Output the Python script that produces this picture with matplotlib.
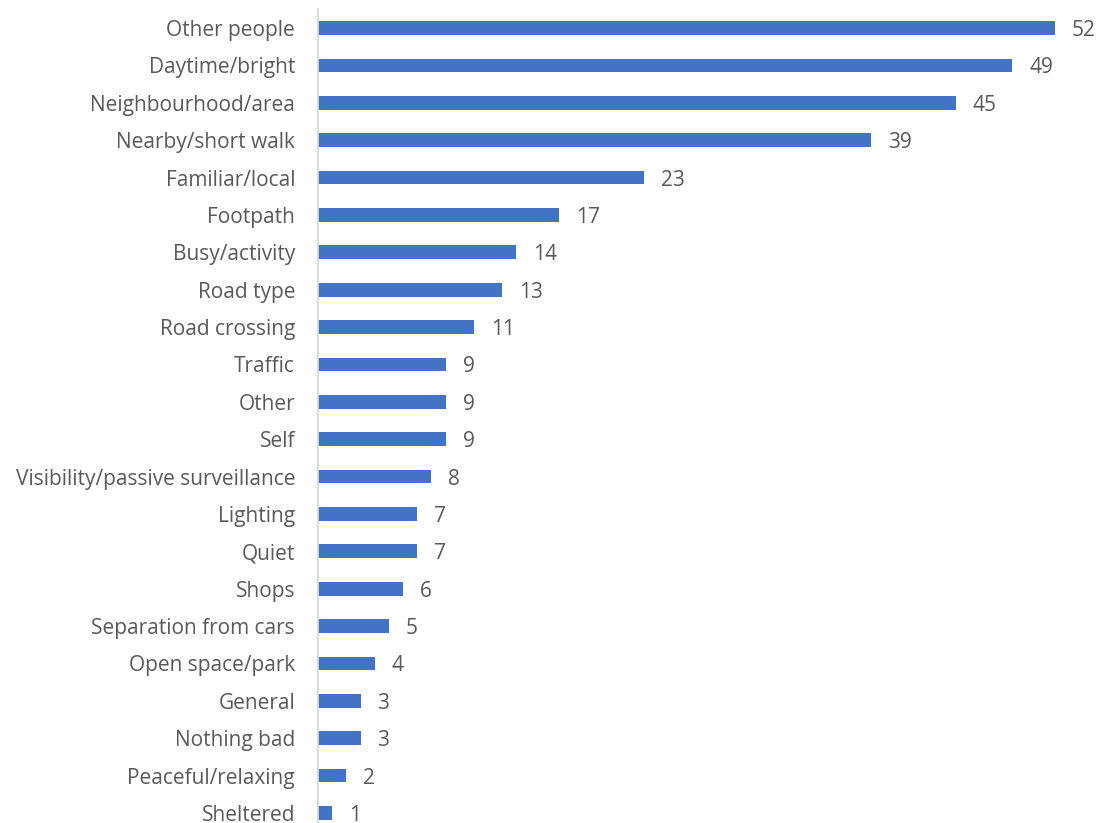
import matplotlib.pyplot as plt

categories = [
    "Other people", "Daytime/bright", "Neighbourhood/area", "Nearby/short walk",
    "Familiar/local", "Footpath", "Busy/activity", "Road type", "Road crossing",
    "Traffic", "Other", "Self", "Visibility/passive surveillance", "Lighting",
    "Quiet", "Shops", "Separation from cars", "Open space/park", "General",
    "Nothing bad", "Peaceful/relaxing", "Sheltered",
]
values = [52, 49, 45, 39, 23, 17, 14, 13, 11, 9, 9, 9, 8, 7, 7, 6, 5, 4, 3, 3, 2, 1]

BAR_COLOR = "#4472C4"
TEXT_COLOR = "#595959"
plt.rcParams["font.family"] = ["Open Sans", "DejaVu Sans"]

W, H = 1098, 823
fig = plt.figure(figsize=(W / 100, H / 100), dpi=100)
left_px, right_px, top_px, bottom_px = 318, 1083, 9, 823
ax = fig.add_axes([left_px / W, 1 - bottom_px / H,
                   (right_px - left_px) / W, (bottom_px - top_px) / H])

pos = list(range(len(categories)))
ax.barh(pos, values, height=0.37, color=BAR_COLOR)
for y, v in zip(pos, values):
    ax.text(v + 1.2, y, str(v), va="center_baseline", ha="left",
            fontsize=15, color=TEXT_COLOR)

ax.set_xlim(0, (right_px - left_px) / 14.17)
ax.set_ylim(21.27, -0.51)
ax.set_yticks(pos)
ax.set_yticklabels(categories, fontsize=15, color=TEXT_COLOR,
                   va="center_baseline")
ax.tick_params(axis="y", length=0, pad=16.5)
ax.set_xticks([])
for s in ["top", "right", "bottom"]:
    ax.spines[s].set_visible(False)
ax.spines["left"].set_color("#D9D9D9")
ax.spines["left"].set_linewidth(1.3)

fig.savefig("out.png", dpi=100)
